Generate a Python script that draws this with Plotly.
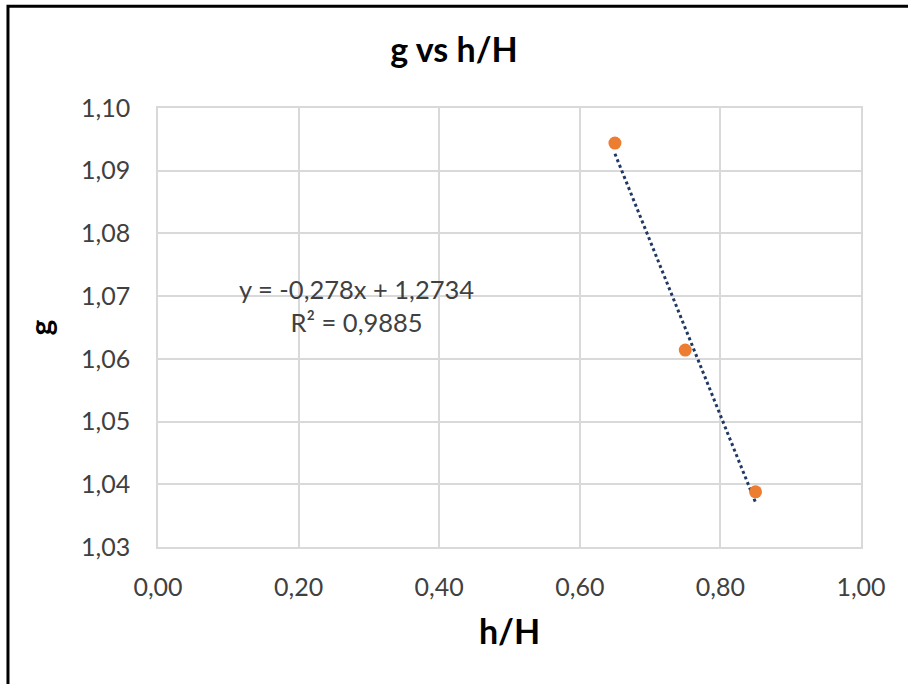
import numpy as np
import plotly.graph_objects as go

# Measured ratios h/H and corresponding g values
h_ratio = [0.65, 0.75, 0.85]
g_values = [1.0944, 1.0614, 1.0388]

# Axis ticks
x_ticks = [0.0, 0.2, 0.4, 0.6, 0.8, 1.0]
y_ticks = [1.03, 1.04, 1.05, 1.06, 1.07, 1.08, 1.09, 1.10]

# Linear least-squares trendline, rounded to the precision shown in the label
slope_raw, intercept_raw = np.polyfit(h_ratio, g_values, 1)
slope = round(float(slope_raw), 3)
intercept = round(float(intercept_raw), 4)
pred = np.polyval([slope_raw, intercept_raw], h_ratio)
ss_res = float(np.sum((np.array(g_values) - pred) ** 2))
ss_tot = float(np.sum((np.array(g_values) - np.mean(g_values)) ** 2))
r2 = round(1 - ss_res / ss_tot, 4)

trend_x = [min(h_ratio), max(h_ratio)]
trend_y = [slope * x + intercept for x in trend_x]


def comma(v, nd):
    return f"{v:.{nd}f}".replace(".", ",")


eq_text = f"y = {comma(slope, 3)}x + {comma(intercept, 4)}<br>R² = {comma(r2, 4)}"

FONT = "Lato, 'Open Sans', sans-serif"

fig = go.Figure()
fig.add_trace(go.Scatter(
    x=trend_x, y=trend_y, mode="lines",
    line=dict(color="#1F3864", width=3, dash="dot"),
    hoverinfo="skip", showlegend=False,
))
fig.add_trace(go.Scatter(
    x=h_ratio, y=g_values, mode="markers",
    marker=dict(color="#ED7D31", size=13),
    showlegend=False,
))

fig.add_annotation(
    x=0.282, y=1.0685, xref="x", yref="y",
    text=eq_text, showarrow=False, align="center",
    font=dict(family=FONT, size=25.5, color="#404040"),
)

# Outer chart frame
fig.add_shape(
    type="rect", xref="paper", yref="paper",
    x0=-0.2134, x1=1.2, y0=-0.35, y1=1.232,
    line=dict(color="#000000", width=3), layer="below",
)

fig.update_layout(
    width=908, height=684,
    margin=dict(l=158, r=47, t=108, b=137),
    paper_bgcolor="white", plot_bgcolor="white",
    separators=", ",
    title=dict(
        text="<b>g vs h/H</b>", x=0.5, xanchor="center",
        y=1 - 50 / 684, yanchor="middle",
        font=dict(family=FONT, size=34, color="#000000"),
    ),
    xaxis=dict(
        range=[0, 1], tickvals=x_ticks, tickformat=".2f",
        showgrid=True, gridcolor="#D9D9D9", gridwidth=1.5,
        showline=True, linecolor="#D9D9D9", linewidth=1.5, mirror=True,
        zeroline=False, ticks="", ticklabelstandoff=17,
        tickfont=dict(family=FONT, size=25, color="#404040"),
        title=dict(text="<b>h/H</b>", standoff=20,
                   font=dict(family=FONT, size=34, color="#000000")),
    ),
    yaxis=dict(
        range=[1.03, 1.10], tickvals=y_ticks, tickformat=".2f",
        showgrid=True, gridcolor="#D9D9D9", gridwidth=1.5,
        showline=True, linecolor="#D9D9D9", linewidth=1.5, mirror=True,
        zeroline=False, ticks="", ticklabelstandoff=21,
        tickfont=dict(family=FONT, size=25, color="#404040"),
        title=dict(text="<b>g</b>", standoff=20,
                   font=dict(family=FONT, size=30, color="#000000")),
    ),
)

fig.write_html("out.html")
